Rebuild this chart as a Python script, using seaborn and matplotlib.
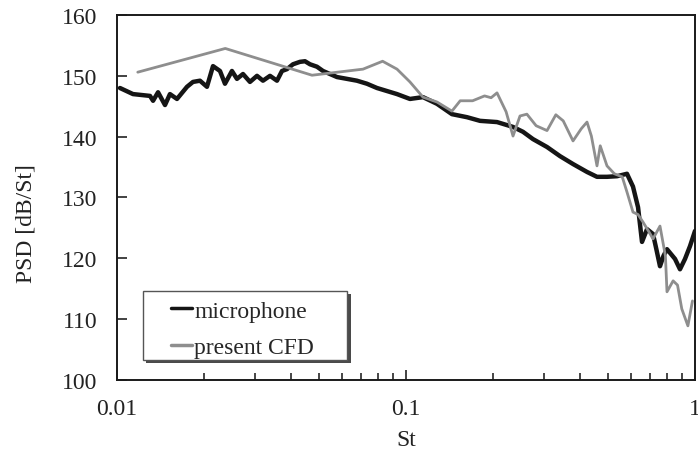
import matplotlib
matplotlib.use("Agg")
import matplotlib.pyplot as plt
import seaborn as sns
import pandas as pd
from matplotlib.patches import Rectangle
from matplotlib.ticker import LogLocator, NullFormatter, FixedLocator, FixedFormatter

# Measured far-field spectrum (microphone)
mic_st = [0.01024, 0.01136, 0.01301, 0.01333, 0.01387, 0.01466, 0.01525, 0.01613,
          0.01747, 0.01832, 0.01937, 0.02048, 0.02149, 0.02272, 0.02364, 0.02499,
          0.02601, 0.02729, 0.02885, 0.03051, 0.03200, 0.03384, 0.03578, 0.03723,
          0.03875, 0.04064, 0.04297, 0.04472, 0.04654, 0.04920, 0.05162, 0.05458,
          0.05771, 0.06250, 0.06767, 0.07328, 0.07937, 0.08595, 0.09308, 0.1032,
          0.1145, 0.1280, 0.1442, 0.1626, 0.1804, 0.2065, 0.2346, 0.2540, 0.2750,
          0.3076, 0.3411, 0.3784, 0.4230, 0.4580, 0.4960, 0.5371, 0.5816, 0.6101,
          0.6352, 0.6556, 0.6823, 0.7157, 0.7350, 0.7566, 0.7780, 0.8000, 0.8528,
          0.8873, 0.9235, 0.9609, 1.0]
mic_psd = [148.0, 147.0, 146.7, 145.9, 147.3, 145.2, 147.0, 146.2,
           148.2, 149.0, 149.2, 148.2, 151.6, 150.8, 148.7, 150.8,
           149.5, 150.3, 149.0, 150.0, 149.2, 150.0, 149.2, 150.8,
           151.1, 151.9, 152.3, 152.4, 151.9, 151.5, 150.8, 150.3,
           149.8, 149.5, 149.2, 148.7, 148.0, 147.5, 147.0, 146.2,
           146.5, 145.4, 143.7, 143.2, 142.6, 142.4, 141.6, 140.8, 139.6,
           138.3, 136.8, 135.5, 134.2, 133.4, 133.4, 133.5, 133.9, 131.8,
           128.4, 122.7, 124.8, 124.0, 121.5, 118.7, 120.4, 121.5, 119.9,
           118.2, 119.9, 122.0, 124.5]

# Simulated spectrum (present CFD)
cfd_st = [0.0118, 0.0237, 0.0473, 0.0710, 0.0830, 0.0931, 0.1032, 0.1145, 0.1280,
          0.1442, 0.1540, 0.1700, 0.1870, 0.1970, 0.2065, 0.2220, 0.2346, 0.2480,
          0.2620, 0.2820, 0.3076, 0.3300, 0.3500, 0.3784, 0.4040, 0.4230, 0.4380,
          0.4580, 0.4700, 0.4960, 0.5260, 0.5600, 0.5816, 0.6101, 0.6352, 0.6600,
          0.6900, 0.7157, 0.7566, 0.7900, 0.8000, 0.8400, 0.8700, 0.9000, 0.9450,
          0.9800]
cfd_psd = [150.6, 154.5, 150.1, 151.1, 152.4, 151.1, 149.0, 146.5, 145.7,
           144.2, 145.9, 145.9, 146.7, 146.4, 147.2, 144.1, 140.1, 143.4,
           143.7, 141.8, 141.0, 143.6, 142.6, 139.3, 141.3, 142.4, 140.1,
           135.2, 138.5, 135.2, 133.9, 133.4, 130.9, 127.6, 127.2, 126.0,
           124.5, 123.2, 125.3, 120.4, 114.5, 116.3, 115.6, 111.7, 108.9,
           113.0]

series_labels = ["microphone", "present CFD"]
series_colors = ["#151515", "#8e8e8e"]

sns.set_theme(style="white")
plt.rcParams["font.family"] = ["Liberation Serif", "DejaVu Serif"]

FS = 17
TXT = "#222222"

fig = plt.figure(figsize=(6.98, 4.56), dpi=100)
ax = fig.add_axes([0.1676, 0.1645, 0.8281, 0.8004])

mic_df = pd.DataFrame({"St": mic_st, "PSD": mic_psd})
cfd_df = pd.DataFrame({"St": cfd_st, "PSD": cfd_psd})

sns.lineplot(data=mic_df, x="St", y="PSD", ax=ax, color=series_colors[0],
             linewidth=3.2, sort=False, estimator=None, label=series_labels[0], zorder=3)
sns.lineplot(data=cfd_df, x="St", y="PSD", ax=ax, color=series_colors[1],
             linewidth=2.0, sort=False, estimator=None, label=series_labels[1], zorder=4)

ax.set_xscale("log")
ax.set_xlim(0.01, 1)
ax.set_ylim(100, 160)
ax.yaxis.set_major_locator(FixedLocator([100, 110, 120, 130, 140, 150, 160]))
ax.xaxis.set_major_locator(FixedLocator([0.01, 0.1, 1]))
ax.xaxis.set_major_formatter(FixedFormatter(["0.01", "0.1", "1"]))
ax.xaxis.set_minor_locator(LogLocator(base=10, subs=range(2, 10)))
ax.xaxis.set_minor_formatter(NullFormatter())

ax.tick_params(axis="both", which="major", direction="in", length=7, width=1.2,
               labelsize=FS, colors=TXT)
ax.tick_params(axis="y", which="major", pad=14, left=True)
ax.tick_params(axis="x", which="major", pad=13, bottom=True)
ax.tick_params(axis="x", which="minor", direction="in", length=5, width=1.2,
               bottom=True)

for sp in ax.spines.values():
    sp.set_visible(True)
    sp.set_color("#1a1a1a")
    sp.set_linewidth(1.4)

ax.set_xlabel("St", fontsize=FS, color=TXT, labelpad=7)
ax.set_ylabel("PSD [dB/St]", fontsize=FS, color=TXT)
ax.yaxis.set_label_coords(-0.14, 0.43)
ax.grid(False)

# Legend panel: drop shadow plus white framed box
box_x, box_y, box_w, box_h = 0.045, 0.055, 0.353, 0.189
ax.add_patch(Rectangle((box_x + 0.006, box_y - 0.009), box_w, box_h,
                       transform=ax.transAxes, facecolor="#4a4a4a",
                       edgecolor="none", zorder=5))
ax.add_patch(Rectangle((box_x, box_y), box_w, box_h, transform=ax.transAxes,
                       facecolor="white", edgecolor="#555555", linewidth=1.0,
                       zorder=6))

leg = ax.legend(loc="upper left", bbox_to_anchor=(0.093, 0.219), fontsize=FS,
                frameon=False, handlelength=0.9, handletextpad=0.1,
                borderpad=0.0, labelspacing=0.63, borderaxespad=0.0)
leg.set_zorder(7)
for line in leg.get_lines():
    line.set_linewidth(2.5)

fig.savefig("out.png", dpi=100)
